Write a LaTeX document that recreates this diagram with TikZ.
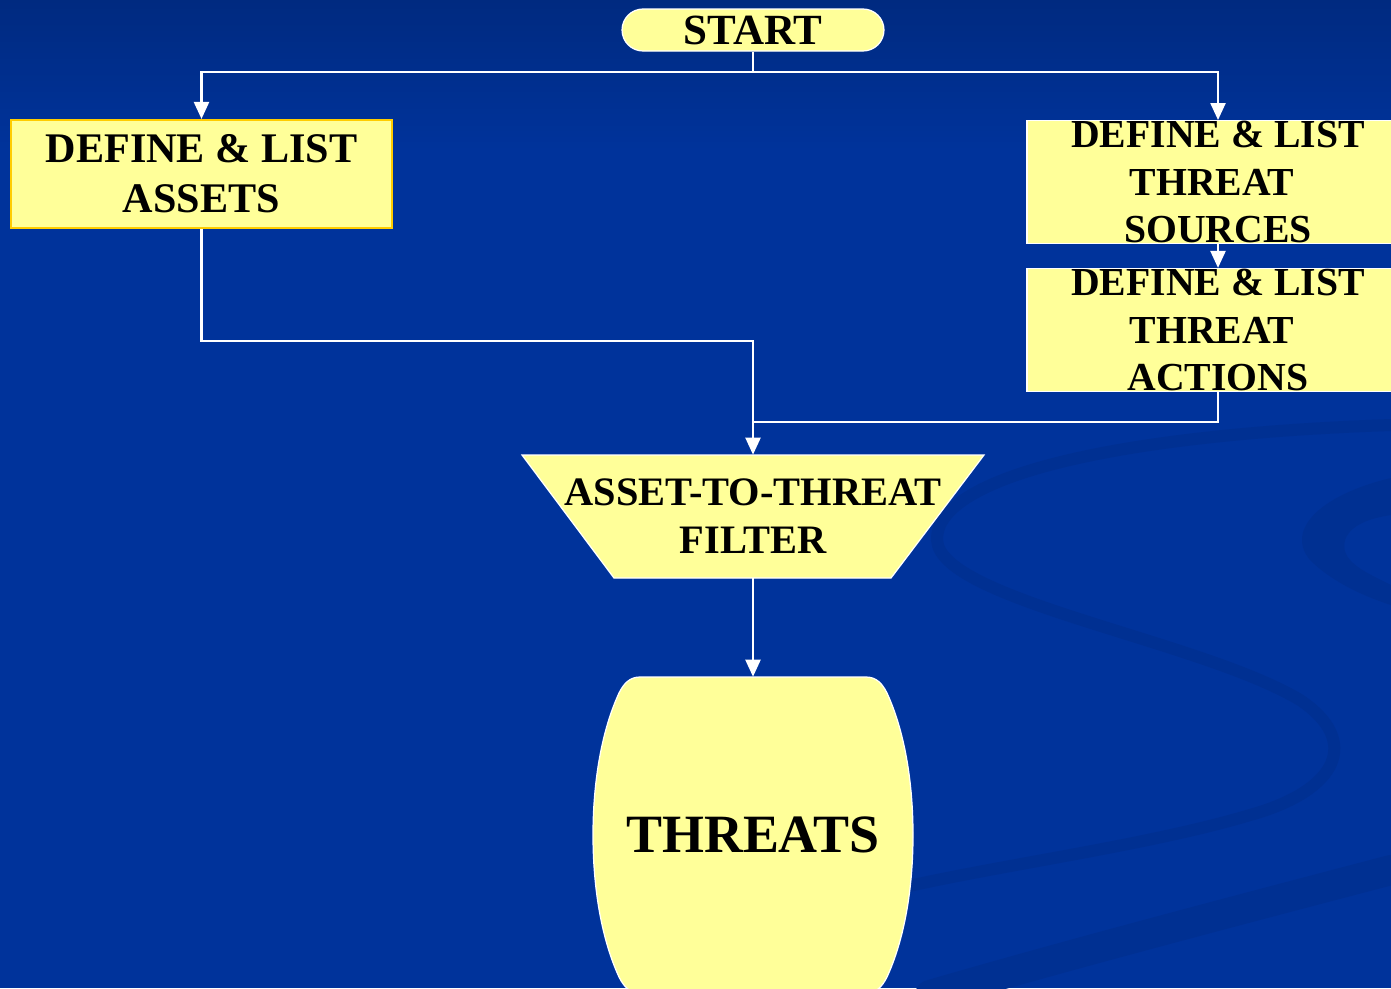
\documentclass[tikz,border=0pt]{standalone}
\usepackage{fontspec}
\setmainfont{Liberation Serif}
\usetikzlibrary{arrows.meta}
\definecolor{slideblue}{RGB}{0,51,155}
\definecolor{slidetop}{RGB}{0,42,128}
\definecolor{swirlblue}{RGB}{0,48,146}
\definecolor{boxyellow}{RGB}{255,255,153}
\definecolor{boxgold}{RGB}{255,204,0}

\begin{document}
\begin{tikzpicture}[x=0.02cm,y=-0.02cm,
  line/.style={white,line width=1.3pt},
  arr/.style={line,-{Triangle[length=0.34cm,width=0.3cm]}},
  box/.style={draw=white,line width=0.7pt,fill=boxyellow,align=center,inner sep=0pt},
  bigtext/.style={font=\bfseries\fontsize{24}{28.5}\selectfont},
  boxtext/.style={font=\bfseries\fontsize{22.6}{27.3}\selectfont}]
  \useasboundingbox (0,0) rectangle (1391,988);
  \fill[slideblue] (0,0) rectangle (1391,988);
  \shade[top color=slidetop,bottom color=slideblue] (0,0) rectangle (1391,150);
  \begin{scope}[draw=swirlblue,fill=swirlblue,line cap=round]
   \draw[line width=0.24cm] (1391,425) .. controls (1100,435) and (935,480) .. (937,540)
     .. controls (940,600) and (1200,640) .. (1300,700) .. controls (1360,740) and (1340,790) .. (1250,815)
     .. controls (1150,845) and (1000,865) .. (900,888);
   \draw[line width=0.6cm] (1391,870) .. controls (1200,920) and (1050,960) .. (930,995);
   \fill (1391,478) .. controls (1320,495) and (1285,530) .. (1310,560) .. controls (1330,580) and (1360,595) .. (1391,605)
     -- (1391,585) .. controls (1360,570) and (1340,560) .. (1345,540) .. controls (1350,525) and (1370,518) .. (1391,515) -- cycle;
  \end{scope}
  \node[box,font=\bfseries\fontsize{24.5}{29}\selectfont,rounded corners=0.42cm,minimum width=5.24cm,minimum height=0.84cm] (start) at (753,30) {START};
  \node[box,bigtext,draw=boxgold,line width=1.2pt,minimum width=7.62cm,minimum height=2.16cm] (assets) at (201.5,174) {DEFINE \& LIST\\ASSETS};
  \node[box,boxtext,minimum width=7.64cm,minimum height=2.44cm] (sources) at (1218,182) {DEFINE \& LIST\\THREAT\kern0.3em\\SOURCES};
  \node[box,boxtext,minimum width=7.64cm,minimum height=2.46cm] (actions) at (1218,330) {DEFINE \& LIST\\THREAT\kern0.3em\\ACTIONS};
  \draw[box] (522,455) -- (984,455) -- (891,578) -- (614,578) -- cycle;
  \node[align=center,inner sep=0pt,minimum width=9.24cm,minimum height=2.46cm,font=\bfseries\fontsize{23}{27.3}\selectfont] (filter) at (753,516.5) {ASSET-TO-THREAT\\FILTER};
  \draw[box] (640,677) -- (866,677) .. controls (876,677) and (882,683) .. (887,693)
    .. controls (904,730) and (913,780) .. (913,835) .. controls (913,890) and (904,940) .. (887,977)
    .. controls (882,987) and (876,993) .. (866,993) -- (640,993) .. controls (630,993) and (624,987) .. (619,977)
    .. controls (602,940) and (593,890) .. (593,835) .. controls (593,780) and (602,730) .. (619,693)
    .. controls (624,683) and (630,677) .. (640,677) -- cycle;
  \node[inner sep=0pt,minimum width=6.4cm,minimum height=6.32cm,font=\bfseries\fontsize{30.7}{36}\selectfont] (threats) at (753,835) {THREATS};
  \coordinate (fork) at (753,72);
  \coordinate (knee) at (753,341);
  \coordinate (merge) at (753,422);
  \draw[line] (start.south) -- (fork);
  \draw[arr] (fork) -| (assets.north);
  \draw[arr] (fork) -| (sources.north);
  \draw[arr] (sources.south) -- (actions.north);
  \draw[arr] (assets.south) |- (knee) -- (filter.north);
  \draw[line] (actions.south) |- (merge);
  \draw[arr] (filter.south) -- (threats.north);
\end{tikzpicture}
\end{document}
